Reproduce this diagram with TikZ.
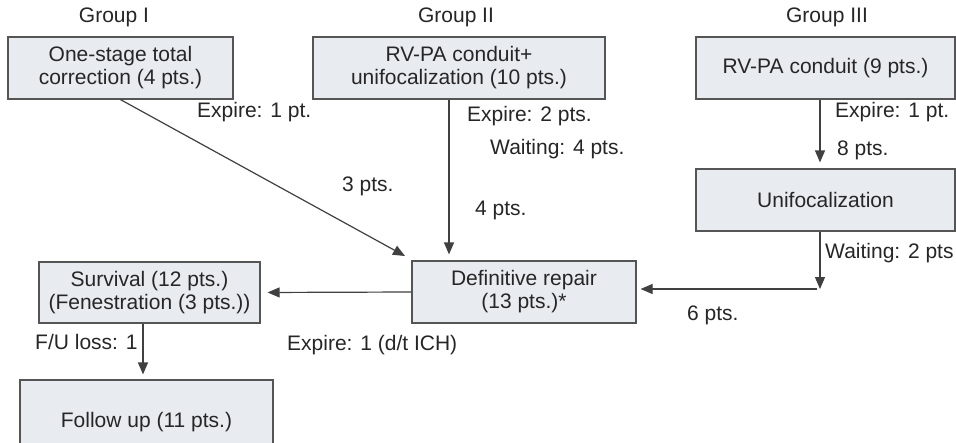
\documentclass[tikz,border=0pt]{standalone}
\usepackage{fontspec}
\setmainfont{Liberation Sans}
\usetikzlibrary{arrows.meta}
\definecolor{boxfill}{HTML}{E8EBF0}
\definecolor{boxline}{HTML}{555555}
\definecolor{ink}{HTML}{262626}
\definecolor{wirecol}{HTML}{404040}
\begin{document}
\begin{tikzpicture}[x=1pt,y=-1pt,
  every node/.style={font=\fontsize{21}{23}\selectfont, text=ink},
  box/.style={draw=boxline, fill=boxfill, line width=1.2pt, align=center, inner sep=0pt},
  lbl/.style={anchor=mid west, inner sep=0pt},
  wire/.style={draw=wirecol, line width=1.2pt},
  arr/.style={wire, -{Triangle[length=12pt,width=10pt]}}]
\clip (0,0) rectangle (956,442);
\useasboundingbox (0,0) rectangle (956,442);
\fill[white] (0,0) rectangle (956,442);

% group titles
\node (g1) at (114,17) {Group I};
\node (g2) at (456,17) {Group II};
\node (g3) at (827,17) {Group III};

% boxes
\node[box, minimum width=225pt, minimum height=62pt] (b1) at (120.5,68) {One-stage total\\correction (4 pts.)};
\node[box, minimum width=292pt, minimum height=62pt] (b2) at (459,68) {RV-PA conduit+\\unifocalization (10 pts.)};
\node[box, minimum width=259pt, minimum height=62pt] (b3) at (825.5,68) {RV-PA conduit (9 pts.)};
\node[box, minimum width=259pt, minimum height=62pt] (uni) at (825.5,200) {Unifocalization};
\node[box, minimum width=224pt, minimum height=62pt] (def) at (524,292) {Definitive repair\\(13 pts.)*};
\node[box, minimum width=221pt, minimum height=61pt] (surv) at (149.5,292.5) {Survival (12 pts.)\\(Fenestration (3 pts.))};
\node[box, minimum width=253pt, minimum height=84pt] (fol) at (146.5,422) {Follow up (11 pts.)};

% connectors
\coordinate (t1) at (405,256);
\coordinate (c) at (820,289);
\draw[arr] (b1.south) -- (t1);
\draw[arr, shorten >=6pt] ([xshift=-10pt]b2.south) -- ([xshift=-10pt]b2.south |- def.north);
\draw[arr, shorten >=6pt] ([xshift=-5.5pt]b3.south) -- ([xshift=-5.5pt]b3.south |- uni.north);
\draw[arr] ([xshift=-5.5pt]uni.south) -- (c);
\draw[arr, shorten >=4pt] ([xshift=-3pt]c) -- (c -| def.east);
\draw[arr, shorten >=7pt] (def.west) -- (surv.east);
\draw[arr, shorten >=5pt] ([xshift=-6.5pt]surv.south) -- ([xshift=-6.5pt]surv.south |- fol.north);

% labels
\node[lbl] (l1) at (197,115) {Expire: 1 pt.};
\node[lbl] (l2) at (342,189) {3 pts.};
\node[lbl] (l3) at (467,119) {Expire: 2 pts.};
\node[lbl] (l4) at (490,152) {Waiting: 4 pts.};
\node[lbl] (l5) at (475,213) {4 pts.};
\node[lbl] (l6) at (835,115) {Expire: 1 pt.};
\node[lbl] (l7) at (837,153) {8 pts.};
\node[lbl] (l8) at (825,256) {Waiting: 2 pts};
\node[lbl] (l9) at (687,318) {6 pts.};
\node[lbl] (l10) at (287,348) {Expire: 1 (d/t ICH)};
\node[lbl] (l11) at (35,347) {F/U loss: 1};
\end{tikzpicture}
\end{document}
